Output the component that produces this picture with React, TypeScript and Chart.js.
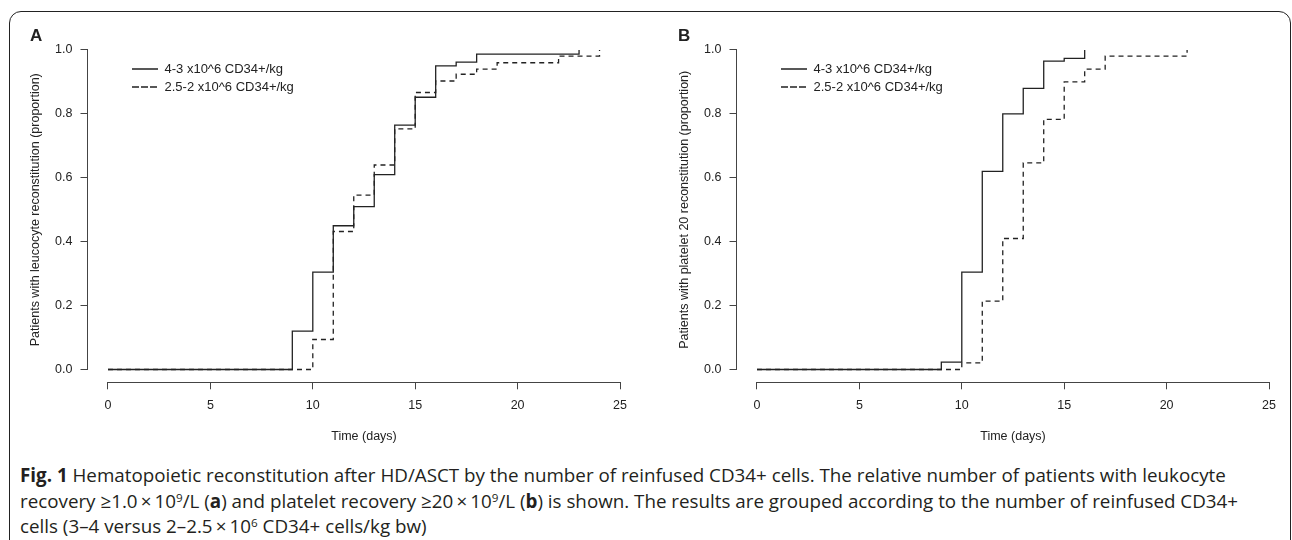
import React, { useEffect, useRef } from "react";
import { Chart, registerables } from "chart.js";

Chart.register(...registerables);

// ---------- data ----------
const X_TICKS = [0, 5, 10, 15, 20, 25];
const Y_TICKS = [0, 0.2, 0.4, 0.6, 0.8, 1.0];
const SERIES_LABELS = ["4-3 x10^6 CD34+/kg", "2.5-2 x10^6 CD34+/kg"];

const A_HIGH_DAYS = [0, 9, 10, 11, 12, 13, 14, 15, 16, 17, 18, 23];
const A_HIGH_PROP = [0, 0.12, 0.305, 0.45, 0.51, 0.61, 0.765, 0.852, 0.95, 0.962, 0.987, 1.0];
const A_LOW_DAYS = [0, 10, 11, 12, 13, 14, 15, 16, 17, 18, 19, 22, 24];
const A_LOW_PROP = [0, 0.094, 0.432, 0.546, 0.64, 0.753, 0.867, 0.903, 0.924, 0.94, 0.96, 0.981, 1.0];

const B_HIGH_DAYS = [0, 9, 10, 11, 12, 13, 14, 15, 16];
const B_HIGH_PROP = [0, 0.023, 0.305, 0.62, 0.8, 0.88, 0.965, 0.974, 1.0];
const B_LOW_DAYS = [0, 10, 11, 12, 13, 14, 15, 16, 17, 21];
const B_LOW_PROP = [0, 0.021, 0.214, 0.41, 0.647, 0.783, 0.9, 0.94, 0.981, 1.0];

const Y_TITLE_A = "Patients with leucocyte reconstitution (proportion)";
const Y_TITLE_B = "Patients with platelet 20 reconstitution (proportion)";
const X_TITLE = "Time (days)";

// ---------- style ----------
const FONT = "'Liberation Sans', Arial, Helvetica, sans-serif";
const INK = "#222";
const AXIS = "#444";
const FS = 12.5;

const rAxisLines = {
  id: "rAxisLines",
  afterDraw(chart: any) {
    const { ctx, chartArea, scales } = chart;
    const x = scales.x;
    const y = scales.y;
    ctx.save();
    ctx.strokeStyle = AXIS;
    ctx.lineWidth = 1;
    ctx.beginPath();
    const yb = Math.round(chartArea.bottom) + 0.5;
    ctx.moveTo(x.getPixelForValue(x.ticks[0].value), yb);
    ctx.lineTo(x.getPixelForValue(x.ticks[x.ticks.length - 1].value), yb);
    const xl = Math.round(chartArea.left) - 0.5;
    ctx.moveTo(xl, y.getPixelForValue(y.ticks[0].value));
    ctx.lineTo(xl, y.getPixelForValue(y.ticks[y.ticks.length - 1].value));
    ctx.stroke();
    ctx.restore();
  },
};

const legendPlacer = {
  id: "legendPlacer",
  afterLayout(chart: any, _args: any, opts: any) {
    const lg = chart.legend;
    if (!lg) return;
    const w = lg.width;
    const h = lg.height;
    lg.left = chart.chartArea.left + opts.dx;
    lg.top = chart.chartArea.top + opts.dy;
    lg.right = lg.left + w;
    lg.bottom = lg.top + h;
  },
};

function toPoints(days: number[], props: number[]) {
  return days.map((d, i) => ({ x: d, y: props[i] }));
}

function makeConfig(
  high: { x: number; y: number }[],
  low: { x: number; y: number }[],
  yTitle: string,
  pad: { left: number; right: number }
): any {
  return {
    type: "line",
    data: {
      datasets: [
        {
          label: SERIES_LABELS[0],
          data: high,
          stepped: true,
          borderColor: INK,
          backgroundColor: "rgba(0,0,0,0)",
          borderWidth: 1.3,
          pointRadius: 0,
          fill: false,
        },
        {
          label: SERIES_LABELS[1],
          data: low,
          stepped: true,
          borderColor: INK,
          backgroundColor: "rgba(0,0,0,0)",
          borderWidth: 1.3,
          borderDash: [5, 4],
          pointRadius: 0,
          fill: false,
        },
      ],
    },
    options: {
      animation: false,
      responsive: false,
      devicePixelRatio: 1,
      layout: { padding: { left: pad.left, right: pad.right, top: 37.2, bottom: 5.7 } },
      plugins: {
        title: { display: false },
        tooltip: { enabled: false },
        legend: {
          display: true,
          position: "chartArea",
          align: "start",
          labels: {
            boxWidth: 26,
            boxHeight: 0,
            padding: 5,
            color: INK,
            font: { family: FONT, size: 13 },
          },
        },
        legendPlacer: { dx: 39.5, dy: 20.3 },
      },
      scales: {
        x: {
          type: "linear",
          min: -1,
          max: 26,
          afterBuildTicks: (s: any) => {
            s.ticks = X_TICKS.map((v) => ({ value: v }));
          },
          afterFit: (s: any) => {
            s.height = 62;
          },
          border: { display: false },
          grid: {
            display: true,
            drawOnChartArea: false,
            drawTicks: true,
            tickLength: 7,
            tickColor: AXIS,
            tickWidth: 1,
          },
          ticks: {
            padding: 9,
            color: INK,
            maxRotation: 0,
            autoSkip: false,
            font: { family: FONT, size: FS },
            callback: (v: any) => String(v),
          },
          title: {
            display: true,
            text: X_TITLE,
            color: INK,
            padding: 0,
            font: { family: FONT, size: FS },
          },
        },
        y: {
          type: "linear",
          min: -0.04,
          max: 1.04,
          afterBuildTicks: (s: any) => {
            s.ticks = Y_TICKS.map((v) => ({ value: v }));
          },
          afterFit: (s: any) => {
            s.width = 59;
          },
          border: { display: false },
          grid: {
            display: true,
            drawOnChartArea: false,
            drawTicks: true,
            tickLength: 7,
            tickColor: AXIS,
            tickWidth: 1,
          },
          ticks: {
            padding: 8,
            color: INK,
            autoSkip: false,
            font: { family: FONT, size: FS },
            callback: (v: any) => Number(v).toFixed(1),
          },
          title: {
            display: true,
            text: yTitle,
            color: INK,
            padding: 0,
            font: { family: FONT, size: FS },
          },
        },
      },
    },
    plugins: [rAxisLines, legendPlacer],
  };
}

function ChartCanvas(props: { config: any; left: number }) {
  const ref = useRef<HTMLCanvasElement | null>(null);
  useEffect(() => {
    if (!ref.current) return;
    const chart = new Chart(ref.current, props.config);
    return () => chart.destroy();
  }, []);
  return (
    <canvas
      ref={ref}
      width={646}
      height={450}
      style={{ position: "absolute", left: props.left, top: 0, width: 646, height: 450 }}
    />
  );
}

const supStyle: React.CSSProperties = { fontSize: "0.62em", verticalAlign: "0.55em", lineHeight: 0 };

export default function App() {
  const cfgA = makeConfig(
    toPoints(A_HIGH_DAYS, A_HIGH_PROP),
    toPoints(A_LOW_DAYS, A_LOW_PROP),
    Y_TITLE_A,
    { left: 28.5, right: 5.5 }
  );
  const cfgB = makeConfig(
    toPoints(B_HIGH_DAYS, B_HIGH_PROP),
    toPoints(B_LOW_DAYS, B_LOW_PROP),
    Y_TITLE_B,
    { left: 31.5, right: 2.5 }
  );
  return (
    <div
      style={{
        position: "absolute",
        left: 0,
        top: 0,
        width: 1292,
        height: 540,
        overflow: "hidden",
        background: "#fff",
      }}
    >
      <div
        style={{
          position: "absolute",
          left: 8.5,
          top: 10.5,
          width: 1282,
          height: 620,
          border: "1.5px solid #222",
          borderRadius: 12,
          boxSizing: "border-box",
        }}
      />
      <ChartCanvas config={cfgA} left={0} />
      <ChartCanvas config={cfgB} left={646} />
      <div style={{ position: "absolute", left: 30, top: 26, font: `bold 17px ${FONT}`, color: INK }}>A</div>
      <div style={{ position: "absolute", left: 678, top: 26, font: `bold 17px ${FONT}`, color: INK }}>B</div>
      <div
        style={{
          position: "absolute",
          left: 20,
          top: 463,
          fontFamily: "'Open Sans', sans-serif",
          fontSize: 18.8,
          lineHeight: "25.5px",
          color: "#231f20",
          whiteSpace: "nowrap",
        }}
      >
        <b>Fig. 1</b> Hematopoietic reconstitution after HD/ASCT by the number of reinfused CD34+ cells. The relative number of patients with leukocyte
        <br />
        recovery ≥1.0{"\u2009×\u2009"}10<sup style={supStyle}>9</sup>/L (<b>a</b>) and platelet recovery ≥20{"\u2009×\u2009"}10
        <sup style={supStyle}>9</sup>/L (<b>b</b>) is shown. The results are grouped according to the number of reinfused CD34+
        <br />
        cells (3–4 versus 2–2.5{"\u2009×\u2009"}10<sup style={supStyle}>6</sup> CD34+ cells/kg bw)
      </div>
    </div>
  );
}
